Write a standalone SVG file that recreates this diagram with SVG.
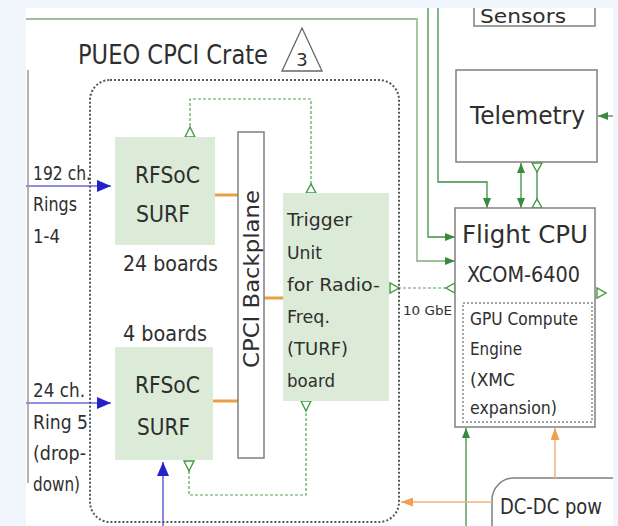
<svg xmlns="http://www.w3.org/2000/svg" width="618" height="526" viewBox="0 0 618 526">
<defs>
<style>
text{font-family:"DejaVu Sans","Liberation Sans",sans-serif;fill:#2e2e2e}
.box{fill:#fff;stroke:#808080;stroke-width:1.5}
.fill{fill:#dcebd8;stroke:none}
.g{fill:none;stroke:#3f8f3f;stroke-width:1.3}
.gd{fill:none;stroke:#5aa05a;stroke-width:1.2;stroke-dasharray:3 2}
.ot{fill:#fff;stroke:#3f9a3f;stroke-width:1.4}
.or{stroke:#e8a040;stroke-width:3}
.ol{fill:none;stroke:#f0b07a;stroke-width:1.5}
.bl{fill:none;stroke:#6a6ad8;stroke-width:1.6}
</style>
<clipPath id="clip"><rect x="26" y="8" width="587" height="518"/></clipPath>
<marker id="ag" viewBox="0 0 10 8" refX="10" refY="4" markerWidth="10" markerHeight="8" markerUnits="userSpaceOnUse" orient="auto-start-reverse"><path d="M0,0 L10,4 L0,8 z" fill="#3a8a3a"/></marker>
<marker id="ab" viewBox="0 0 14 12" refX="14" refY="6" markerWidth="14" markerHeight="12" markerUnits="userSpaceOnUse" orient="auto"><path d="M0,0 L14,6 L0,12 z" fill="#2222cc"/></marker>
<marker id="ao" viewBox="0 0 12 9" refX="12" refY="4.5" markerWidth="12" markerHeight="9" markerUnits="userSpaceOnUse" orient="auto"><path d="M0,0 L12,4.5 L0,9 z" fill="#f0a050"/></marker>
</defs>
<rect width="618" height="526" fill="#f1f6fd"/>
<rect x="26" y="8" width="587" height="518" fill="#fff"/>
<g id="dcdc">
<path d="M613,478 H514 A22,22 0 0 0 492,500 V526" fill="#fff" stroke="#808080" stroke-width="1.5"/>
<text x="500" y="514" font-size="22" textLength="102" lengthAdjust="spacingAndGlyphs">DC-DC pow</text>
</g>
<g clip-path="url(#clip)">
<g id="connectors">
<path d="M26,19 H417 V261 H455" fill="none" stroke="#9fbf9f" stroke-width="1.8" marker-end="url(#ag)"/>
<path class="g" d="M428,8 V237 H455" marker-end="url(#ag)"/>
<path class="g" d="M438,8 V182 H487 V208" marker-end="url(#ag)"/>
<path class="g" d="M521,163 V208" marker-start="url(#ag)" marker-end="url(#ag)"/>
<path class="g" d="M537,170 V200"/>
<polygon class="ot" points="532,163 542,163 537,172"/>
<polygon class="ot" points="532,208 542,208 537,199"/>
<path class="g" d="M613,116 H598" marker-end="url(#ag)"/>
<path class="g" d="M466,526 V428" marker-end="url(#ag)"/>
<path class="gd" d="M190,136 V99 H311 V185"/>
<polygon class="ot" points="185,137 195,137 190,127"/>
<polygon class="ot" points="306,193 316,193 311,184"/>
<path class="gd" d="M189,471 V495 H306 V410" stroke="#8fb58f"/>
<polygon class="ot" points="184,461 194,461 189,471"/>
<polygon class="ot" points="301,401 311,401 306,411"/>
<path class="gd" d="M398,288 H446"/>
<polygon class="ot" points="390,283 390,293 399,288"/>
<polygon class="ot" points="455,283 455,293 446,288"/>
<polygon class="ot" points="597,288 597,298 606,293"/>
<line class="or" x1="215" y1="195" x2="238" y2="195"/>
<line class="or" x1="264" y1="298" x2="283" y2="298"/>
<line class="or" x1="213" y1="401" x2="238" y2="401"/>
<path class="ol" d="M555,478 V428" marker-end="url(#ao)"/>
<path class="ol" d="M492,502 H401" marker-end="url(#ao)"/>
<path class="bl" d="M26,186 H111" marker-end="url(#ab)"/>
<path class="bl" d="M26,403 H111" marker-end="url(#ab)"/>
<path class="bl" d="M163,526 V462" marker-end="url(#ab)"/>
<line x1="28" y1="70" x2="28" y2="483" stroke="#999" stroke-width="1.5"/>
</g>
<g id="crate">
<rect x="90" y="80" width="309" height="442" rx="20" fill="none" stroke="#555" stroke-width="2" stroke-dasharray="2 2"/>
<text x="78" y="64" font-size="26" textLength="190" lengthAdjust="spacingAndGlyphs">PUEO CPCI Crate</text>
<polygon points="282,71 302,28 322,71" fill="#fff" stroke="#666" stroke-width="1.3"/>
<text x="302" y="66" font-size="18" text-anchor="middle">3</text>
</g>
<g id="labels-left">
<text x="33" y="180" font-size="19" textLength="58" lengthAdjust="spacingAndGlyphs">192 ch.</text>
<text x="33" y="211" font-size="19" textLength="44" lengthAdjust="spacingAndGlyphs">Rings</text>
<text x="33" y="243" font-size="19" textLength="27" lengthAdjust="spacingAndGlyphs">1-4</text>
<text x="33" y="397" font-size="19" textLength="52" lengthAdjust="spacingAndGlyphs">24 ch.</text>
<text x="33" y="429" font-size="19" textLength="55" lengthAdjust="spacingAndGlyphs">Ring 5</text>
<text x="33" y="460" font-size="19" textLength="53" lengthAdjust="spacingAndGlyphs">(drop-</text>
<text x="33" y="491" font-size="19" textLength="47" lengthAdjust="spacingAndGlyphs">down)</text>
</g>
<g id="surf1">
<rect class="fill" x="115" y="137" width="100" height="108"/>
<text x="135" y="183" font-size="23" textLength="65" lengthAdjust="spacingAndGlyphs">RFSoC</text>
<text x="136" y="222" font-size="23" textLength="54" lengthAdjust="spacingAndGlyphs">SURF</text>
<text x="123" y="271" font-size="21" textLength="95" lengthAdjust="spacingAndGlyphs">24 boards</text>
</g>
<g id="surf2">
<text x="123" y="341" font-size="21" textLength="84" lengthAdjust="spacingAndGlyphs">4 boards</text>
<rect class="fill" x="115" y="347" width="98" height="113"/>
<text x="135" y="393" font-size="23" textLength="65" lengthAdjust="spacingAndGlyphs">RFSoC</text>
<text x="137" y="435" font-size="23" textLength="53" lengthAdjust="spacingAndGlyphs">SURF</text>
</g>
<g id="backplane">
<rect class="box" x="238" y="132" width="26" height="326"/>
<text transform="translate(259,279) rotate(-90)" text-anchor="middle" font-size="21" textLength="178" lengthAdjust="spacingAndGlyphs">CPCI Backplane</text>
</g>
<g id="turf">
<rect class="fill" x="283" y="193" width="106" height="208"/>
<text x="287" y="226" font-size="18" textLength="65" lengthAdjust="spacingAndGlyphs">Trigger</text>
<text x="287" y="259" font-size="18" textLength="35" lengthAdjust="spacingAndGlyphs">Unit</text>
<text x="287" y="291" font-size="18" textLength="93" lengthAdjust="spacingAndGlyphs">for Radio-</text>
<text x="287" y="323" font-size="18" textLength="43" lengthAdjust="spacingAndGlyphs">Freq.</text>
<text x="287" y="355" font-size="18" textLength="61" lengthAdjust="spacingAndGlyphs">(TURF)</text>
<text x="287" y="387" font-size="18" textLength="48" lengthAdjust="spacingAndGlyphs">board</text>
<text x="403" y="315" font-size="13" textLength="49" lengthAdjust="spacingAndGlyphs">10 GbE</text>
</g>
<g id="sensors">
<rect class="box" x="474" y="-10" width="121" height="36"/>
<text x="480" y="23" font-size="19" textLength="86" lengthAdjust="spacingAndGlyphs">Sensors</text>
</g>
<g id="telemetry">
<rect class="box" x="456" y="70" width="141" height="92"/>
<text x="470" y="124" font-size="25" textLength="115" lengthAdjust="spacingAndGlyphs">Telemetry</text>
</g>
<g id="cpu">
<rect class="box" x="455" y="208" width="140" height="219"/>
<text x="462" y="243" font-size="24" textLength="126" lengthAdjust="spacingAndGlyphs">Flight CPU</text>
<text x="467" y="282" font-size="22" textLength="113" lengthAdjust="spacingAndGlyphs">XCOM-6400</text>
<rect x="463" y="303" width="129" height="119" fill="none" stroke="#888" stroke-width="1.5" stroke-dasharray="2 2"/>
<text x="470" y="325" font-size="18" textLength="108" lengthAdjust="spacingAndGlyphs">GPU Compute</text>
<text x="470" y="355" font-size="18" textLength="52" lengthAdjust="spacingAndGlyphs">Engine</text>
<text x="470" y="386" font-size="18" textLength="45" lengthAdjust="spacingAndGlyphs">(XMC</text>
<text x="470" y="414" font-size="18" textLength="87" lengthAdjust="spacingAndGlyphs">expansion)</text>
</g>
</g>
</svg>
